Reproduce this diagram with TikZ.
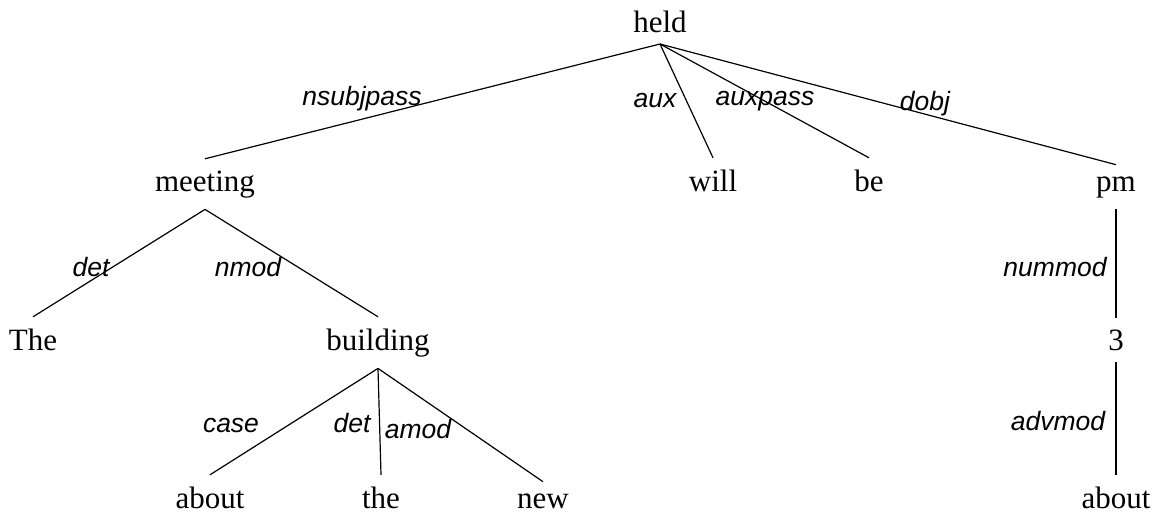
\documentclass[tikz,border=0pt]{standalone}
\usepackage{fontspec}
\setmainfont{Liberation Serif}
\newfontfamily\lblfont{Liberation Sans}
\begin{document}
\begin{tikzpicture}[x=1pt,y=-1pt,
  word/.style={inner sep=11.5pt, anchor=base, font=\fontsize{31}{37}\selectfont},
  rel/.style={inner sep=0pt, anchor=base, font=\lblfont\itshape\fontsize{26.5}{32}\selectfont},
  edge/.style={line width=1.2pt}]
\useasboundingbox (0,0) rectangle (1164,517);
% words
\node[word] (held) at (660,32) {held};
\node[word] (meeting) at (205,191) {meeting};
\node[word] (will) at (713,191) {will};
\node[word] (be) at (869,191) {be};
\node[word] (pm) at (1116,191) {pm};
\node[word] (The) at (33,350) {The};
\node[word] (building) at (378,350) {building};
\node[word] (three) at (1116,350) {3};
\node[word] (about1) at (210,508) {about};
\node[word] (the) at (381,508) {the};
\node[word] (new) at (543,508) {new};
\node[word] (about2) at (1116,508) {about};
% edges
\draw[edge] (held.south) -- (meeting.north);
\draw[edge] (held.south) -- (will.north);
\draw[edge] (held.south) -- (be.north);
\draw[edge] (held.south) -- (pm.north);
\draw[edge] (meeting.south) -- (The.north);
\draw[edge] (meeting.south) -- (building.north);
\draw[edge] (building.south) -- (about1.north);
\draw[edge] (building.south) -- (the.north);
\draw[edge] (building.south) -- (new.north);
\draw[edge] (pm.south) -- (three.north);
\draw[edge] (three.south) -- (about2.north);
% labels
\node[rel] (l1) at (362,105) {nsubjpass};
\node[rel] (l2) at (655,107) {aux};
\node[rel] (l3) at (765,105) {auxpass};
\node[rel] (l4) at (925,110) {dobj};
\node[rel] (l5) at (91,276) {det};
\node[rel] (l6) at (248,276) {nmod};
\node[rel] (l7) at (1055,276) {nummod};
\node[rel] (l8) at (231,432) {case};
\node[rel] (l9) at (352,432) {det};
\node[rel] (l10) at (418,438) {amod};
\node[rel] (l11) at (1058,430) {advmod};
\end{tikzpicture}
\end{document}
